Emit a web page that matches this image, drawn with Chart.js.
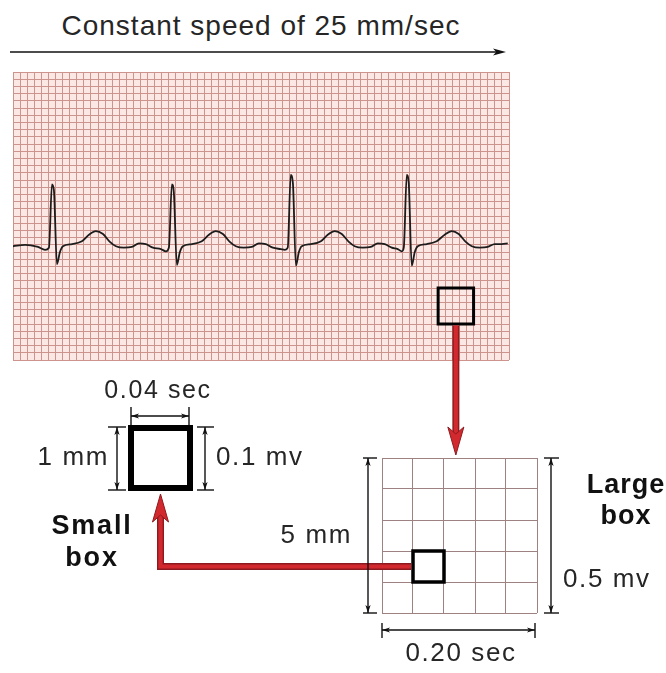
<!DOCTYPE html>
<html>
<head>
<meta charset="utf-8">
<script src="https://cdn.jsdelivr.net/npm/chart.js@4.4.0/dist/chart.umd.min.js"></script>
<style>
body{margin:0;background:#fff;width:666px;height:673px;position:relative;overflow:hidden;font-family:"Liberation Sans",Arial,sans-serif;color:#262626}
canvas{position:absolute}
.lbl{position:absolute;line-height:1;white-space:nowrap;letter-spacing:1.6px}
.bold{font-weight:bold;text-align:center;color:#111;letter-spacing:1.8px}
</style>
</head>
<body>
<div class="lbl" style="left:0;width:522px;text-align:center;top:12px;font-size:28px;letter-spacing:1px">Constant speed of 25 mm/sec</div>
<canvas id="paper" style="left:12px;top:71px;width:498px;height:290px" width="498" height="290"></canvas>
<canvas id="small" style="left:127px;top:424px;width:67px;height:68px" width="67" height="68"></canvas>
<canvas id="large" style="left:381px;top:457px;width:157px;height:157px" width="157" height="157"></canvas>
<canvas id="overlay" style="left:0;top:0;width:666px;height:673px;pointer-events:none" width="666" height="673"></canvas>

<div class="lbl" style="left:98px;width:120px;text-align:center;top:377px;font-size:25px">0.04 sec</div>
<div class="lbl" style="right:557px;top:443px;font-size:26px">1 mm</div>
<div class="lbl" style="left:216px;top:443px;font-size:26px">0.1 mv</div>
<div class="lbl bold" style="left:32px;width:120px;top:509px;font-size:27px;line-height:32px">Small<br>box</div>
<div class="lbl" style="right:314px;top:521px;font-size:26px">5 mm</div>
<div class="lbl bold" style="left:566px;width:120px;top:469px;font-size:27px;line-height:31px;letter-spacing:1px">Large<br>box</div>
<div class="lbl" style="left:563px;top:565px;font-size:26px">0.5 mv</div>
<div class="lbl" style="left:401px;width:120px;text-align:center;top:639px;font-size:26px">0.20 sec</div>

<script>
// ECG strip: time in seconds, amplitude in mV (baseline = 0)
var ecgTime = [0, 0.068, 0.141, 0.181, 0.203, 0.220, 0.231, 0.248, 0.265, 0.282, 0.333, 0.389, 0.429, 0.468, 0.508, 0.547, 0.581, 0.626, 0.671, 0.711, 0.750, 0.790, 0.835, 0.863, 0.880,
  0.897, 0.908, 0.925, 0.942, 0.959, 1.010, 1.066, 1.106, 1.145, 1.185, 1.224, 1.258, 1.303, 1.348, 1.388, 1.427, 1.467, 1.512, 1.535, 1.551,
  1.568, 1.580, 1.597, 1.614, 1.630, 1.681, 1.738, 1.777, 1.817, 1.856, 1.896, 1.929, 1.975, 2.020, 2.059, 2.099, 2.138, 2.172, 2.195, 2.206,
  2.223, 2.234, 2.251, 2.268, 2.285, 2.336, 2.392, 2.437, 2.477, 2.516, 2.556, 2.590, 2.635, 2.680, 2.719, 2.759, 2.793];
var ecgMv = [-0.02, 0.00, -0.03, -0.07, -0.04, 0.84, 0.76, -0.27, -0.10, -0.02, 0.01, 0.05, 0.14, 0.19, 0.15, 0.04, -0.02, -0.04, -0.03, 0.02, 0.01, -0.04, -0.06, -0.09, -0.04,
  0.84, 0.73, -0.28, -0.10, -0.02, 0.01, 0.05, 0.14, 0.19, 0.15, 0.04, -0.02, -0.04, -0.03, 0.02, 0.01, -0.04, -0.06, -0.07, -0.04,
  0.97, 0.86, -0.29, -0.10, -0.02, 0.01, 0.05, 0.14, 0.19, 0.15, 0.04, -0.02, -0.04, -0.03, 0.02, 0.01, -0.04, -0.06, -0.09, -0.04,
  0.97, 0.86, -0.29, -0.10, -0.02, 0.01, 0.05, 0.14, 0.19, 0.15, 0.04, -0.02, -0.04, -0.03, 0.01, 0.01, 0.02];

// the large box marked on the strip
var markTime = [2.4, 2.6, 2.6, 2.4, 2.4];
var markMv = [-0.6, -0.6, -1.1, -1.1, -0.6];

// one small box inside the large box
var innerTime = [0.04, 0.08, 0.08, 0.04, 0.04];
var innerMv = [0.2, 0.2, 0.1, 0.1, 0.2];

// the small box itself
var smallTime = [0, 0.04, 0.04, 0, 0];
var smallMv = [0, 0, 0.1, 0.1, 0];

function pts(xs, ys) {
  var out = [];
  for (var i = 0; i < xs.length; i++) out.push({x: xs[i], y: ys[i]});
  return out;
}

function axis(min, max, step, gridOpts) {
  return {
    type: 'linear', min: min, max: max,
    ticks: {display: false, stepSize: step},
    grid: Object.assign({drawTicks: false}, gridOpts),
    border: {display: false}
  };
}

var base = {
  responsive: false,
  animation: false,
  events: [],
  plugins: {legend: {display: false}, tooltip: {enabled: false}},
  elements: {point: {radius: 0}}
};

// paper background
var paperBg = {
  id: 'paperBg',
  beforeDraw: function (chart) {
    var a = chart.chartArea, c = chart.ctx;
    c.save();
    c.fillStyle = '#fbe8e4';
    c.fillRect(a.left, a.top, a.right - a.left, a.bottom - a.top);
    c.restore();
  }
};

var paper = new Chart(document.getElementById('paper'), {
  type: 'line',
  data: {
    datasets: [
      {data: pts(ecgTime, ecgMv), borderColor: '#1c1c1c', borderWidth: 1.8, cubicInterpolationMode: 'monotone'},
      {data: pts(markTime, markMv), borderColor: '#000', borderWidth: 3, tension: 0, clip: false, borderJoinStyle: 'miter', borderCapStyle: 'square'}
    ]
  },
  options: Object.assign({}, base, {
    layout: {padding: 1},
    scales: {
      x: axis(0, 2.8, 0.04, {color: '#cd948d', lineWidth: 1}),
      y: axis(-1.6, 2.4, 0.1, {color: '#cd948d', lineWidth: 1})
    }
  }),
  plugins: [paperBg]
});

var small = new Chart(document.getElementById('small'), {
  type: 'line',
  data: {
    datasets: [
      {data: pts(smallTime, smallMv), borderColor: '#000', borderWidth: 6, tension: 0, clip: false, borderJoinStyle: 'miter', borderCapStyle: 'square'}
    ]
  },
  options: Object.assign({}, base, {
    layout: {padding: 4},
    scales: {
      x: axis(0, 0.04, 0.04, {display: false}),
      y: axis(0, 0.1, 0.1, {display: false})
    }
  })
});

var large = new Chart(document.getElementById('large'), {
  type: 'line',
  data: {
    datasets: [
      {data: pts(innerTime, innerMv), borderColor: '#000', borderWidth: 3.5, tension: 0, clip: false, borderJoinStyle: 'miter', borderCapStyle: 'square'}
    ]
  },
  options: Object.assign({}, base, {
    layout: {padding: 1},
    scales: {
      x: axis(0, 0.2, 0.04, {color: '#9e8282', lineWidth: 1}),
      y: axis(0, 0.5, 0.1, {color: '#9e8282', lineWidth: 1})
    }
  })
});

// arrows and dimension lines
function pos(chart, x, y) {
  var el = chart.canvas;
  return {
    x: parseFloat(el.style.left) + chart.scales.x.getPixelForValue(x),
    y: parseFloat(el.style.top) + chart.scales.y.getPixelForValue(y)
  };
}

var ov = document.getElementById('overlay').getContext('2d');

function line(x1, y1, x2, y2, w) {
  ov.beginPath();
  ov.lineWidth = w || 1.4;
  ov.strokeStyle = '#111';
  ov.moveTo(x1, y1); ov.lineTo(x2, y2);
  ov.stroke();
}

function head(tx, ty, dx, dy, len, hw, fill, stroke) {
  var nx = -dy, ny = dx;
  ov.beginPath();
  ov.moveTo(tx, ty);
  ov.lineTo(tx - dx * len + nx * hw, ty - dy * len + ny * hw);
  ov.lineTo(tx - dx * len * 0.75, ty - dy * len * 0.75);
  ov.lineTo(tx - dx * len - nx * hw, ty - dy * len - ny * hw);
  ov.closePath();
  ov.fillStyle = fill;
  ov.fill();
  if (stroke) { ov.lineWidth = 1; ov.strokeStyle = stroke; ov.stroke(); }
}

function dim(x1, y1, x2, y2) {
  line(x1, y1, x2, y2);
  var l = Math.hypot(x2 - x1, y2 - y1), dx = (x2 - x1) / l, dy = (y2 - y1) / l;
  head(x2, y2, dx, dy, 8, 2.6, '#111');
  head(x1, y1, -dx, -dy, 8, 2.6, '#111');
}

function redArrow(p, dx, dy) {
  var end = p[p.length - 1];
  var stopX = end.x - dx * 20, stopY = end.y - dy * 20;
  [['#8c1a1e', 7], ['#d2292f', 4.2]].forEach(function (s) {
    ov.beginPath();
    ov.lineJoin = 'miter';
    ov.strokeStyle = s[0];
    ov.lineWidth = s[1];
    ov.moveTo(p[0].x, p[0].y);
    for (var i = 1; i < p.length - 1; i++) ov.lineTo(p[i].x, p[i].y);
    ov.lineTo(stopX, stopY);
    ov.stroke();
  });
  head(end.x, end.y, dx, dy, 28, 8, '#d2292f', '#8c1a1e');
}

// speed arrow above the strip
line(10, 52, 500, 52, 1.6);
head(506, 52, 1, 0, 13, 3.5, '#111');

// strip box -> large box
var b1 = pos(paper, 2.5, -1.1);
var lt = pos(large, 0.1, 0.5);
redArrow([{x: b1.x, y: b1.y + 1.5}, {x: b1.x, y: lt.y - 3}], 0, 1);

// inner small box -> small box
var a2 = pos(large, 0.04, 0.15);
var sc = pos(small, 0.02, 0);
redArrow([{x: a2.x - 2, y: a2.y}, {x: sc.x, y: a2.y}, {x: sc.x, y: sc.y + 6}], 0, -1);

// small box dimensions
var s0 = pos(small, 0, 0), s1 = pos(small, 0.04, 0.1);
var sl = s0.x, sb = s0.y, sr = s1.x, st = s1.y;
line(sl, st - 21, sl, st - 3); line(sr - 1, st - 21, sr - 1, st - 3);
dim(sl, st - 12, sr - 1, st - 12);
line(sl - 23, st - 1, sl - 5, st - 1); line(sl - 23, sb + 2, sl - 5, sb + 2);
dim(sl - 14, st - 1, sl - 14, sb + 2);
line(sr + 7, st - 1, sr + 24, st - 1); line(sr + 7, sb + 2, sr + 24, sb + 2);
dim(sr + 15, st - 1, sr + 15, sb + 2);

// large box dimensions
var l0 = pos(large, 0, 0), l1 = pos(large, 0.2, 0.5);
var L = l0.x, B = l0.y, R = l1.x, T = l1.y;
line(L - 19, T, L - 5, T); line(L - 19, B, L - 5, B);
dim(L - 14, T, L - 14, B);
line(R + 7, T, R + 22, T); line(R + 7, B, R + 22, B);
dim(R + 14, T, R + 14, B);
line(L, B + 10, L, B + 25); line(R - 2, B + 10, R - 2, B + 25);
dim(L, B + 17, R - 2, B + 17);
</script>
</body>
</html>
